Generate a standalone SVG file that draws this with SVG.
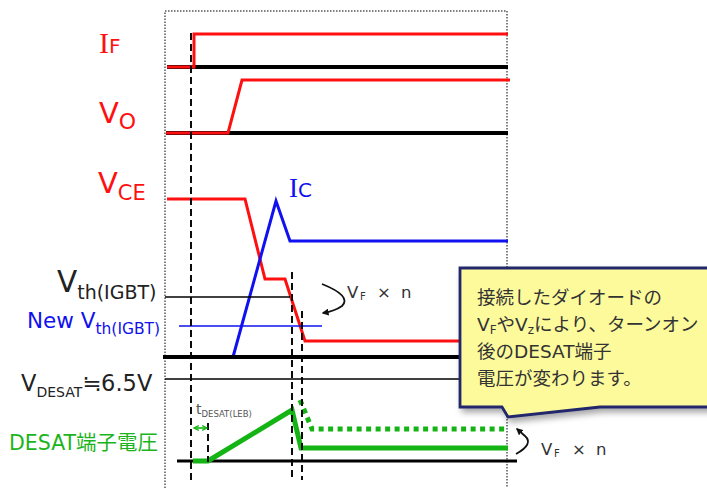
<svg xmlns="http://www.w3.org/2000/svg" width="707" height="488" viewBox="0 0 707 488">
<style>
text{font-family:"DejaVu Sans","Noto Sans CJK JP",sans-serif;}
.serif{font-family:"Liberation Serif","DejaVu Serif",serif;}
.red{fill:#ff1010;}
.blue{fill:#1010f0;}
.dark{fill:#222;}
.gray{fill:#333;}
.green{fill:#1cb41c;}
.wr{fill:none;stroke:#ff1010;stroke-width:3;stroke-linejoin:miter;}
.wb{fill:none;stroke:#1010f0;stroke-width:3;}
.wg{fill:none;stroke:#14b414;stroke-width:5;}
.base{fill:none;stroke:#000;stroke-width:4;}
.thin{fill:none;stroke:#000;stroke-width:1.6;}
.dash{fill:none;stroke:#000;stroke-width:1.9;stroke-dasharray:7 4;}
.box{fill:none;stroke:#555;stroke-width:1.5;stroke-dasharray:1.5 1.5;}
.arc{fill:none;stroke:#111;stroke-width:1.8;}
</style>
<defs>
<marker id="ah" viewBox="0 0 10 10" refX="8" refY="5" markerWidth="7" markerHeight="7" orient="auto" markerUnits="userSpaceOnUse">
<path d="M0,0 L10,5 L0,10 Z" fill="#111"/>
</marker>
<marker id="gh" viewBox="0 0 10 10" refX="9" refY="5" markerWidth="6" markerHeight="6" orient="auto-start-reverse" markerUnits="userSpaceOnUse">
<path d="M1,1 L9,5 L1,9" fill="none" stroke="#14b414" stroke-width="2"/>
</marker>
<filter id="sh" x="-10%" y="-10%" width="130%" height="140%">
<feDropShadow dx="3" dy="4" stdDeviation="3" flood-color="#000" flood-opacity="0.35"/>
</filter>
</defs>
<rect width="707" height="488" fill="#fff"/>

<!-- frame -->
<path class="box" d="M165,488 V11 H507 V488"/>

<g id="signal-IF">
<text x="99" y="53" class="red"><tspan class="serif" font-size="30">I</tspan><tspan font-size="20">F</tspan></text>
<path class="base" d="M167,67 H508"/>
<path class="wr" d="M167,67 H194 V34 H508"/>
</g>

<g id="signal-VO">
<text x="99" y="123" class="red" font-size="29">V<tspan font-size="22" dy="6">O</tspan></text>
<path class="base" d="M166,133 H508"/>
<path class="wr" d="M166,133 H228 L242,80 H510"/>
</g>

<g id="signal-VCE">
<text x="98" y="193" class="red" font-size="29">V<tspan font-size="21" dy="7">CE</tspan></text>
<path class="wr" d="M167,199 H245 L265,279 H285 L305,341 H470"/>
</g>

<g id="signal-IC">
<text x="289" y="197" class="blue"><tspan class="serif" font-size="27">I</tspan><tspan font-size="20">C</tspan></text>
<path class="wb" d="M233,357 L276,201 L290,241 H508"/>
</g>

<g id="level-Vth">
<text x="57" y="292" class="dark" font-size="29.5">V<tspan font-size="19" dy="7">th(IGBT)</tspan></text>
<path class="thin" d="M165,297 H290"/>
</g>

<g id="level-newVth">
<text x="27" y="328" class="blue" font-size="21.5">New V<tspan font-size="15.5" dy="6">th(IGBT)</tspan></text>
<path fill="none" stroke="#1010f0" stroke-width="1.6" d="M179,326 H322"/>
</g>

<g id="baseline-mid">
<path class="base" d="M163,357 H470"/>
</g>

<g id="level-VDESAT">
<text x="21" y="391" class="dark" font-size="22.5">V<tspan font-size="14" dy="6">DESAT</tspan><tspan font-size="22.5" dy="-6">≒6.5V</tspan></text>
<path class="thin" d="M165,379 H470"/>
</g>

<g id="signal-DESAT">
<text x="9" y="450" class="green" font-size="20.5">DESAT端子電圧</text>
<path fill="none" stroke="#000" stroke-width="3" d="M177,461 H517"/>
<path class="wg" d="M193,461 H208 L292,410 L301,448 H508"/>
<path fill="none" stroke="#14b414" stroke-width="5" stroke-dasharray="5 4.5" d="M300,400 L312,429 H505"/>
</g>

<g id="connectors">
<path class="dash" d="M191,33 V480"/>
<path class="dash" d="M292,272 V480"/>
<path class="dash" d="M302,311 V480"/>
<path class="dash" d="M208,423 V462"/>
<path fill="none" stroke="#14b414" stroke-width="1.6" marker-start="url(#gh)" marker-end="url(#gh)" d="M194,428 H207"/>
<path class="arc" marker-end="url(#ah)" d="M322,284 Q352,296 342,306 Q335,311 323,313"/>
<path class="arc" marker-end="url(#ah)" d="M516,454 Q534,444 525,436 L517,429"/>
</g>

<g id="label-tDESAT">
<text x="196" y="414" fill="#555" font-size="14">t<tspan font-size="8.5" dy="3">DESAT(LEB)</tspan></text>
</g>

<g id="label-VFn-1">
<text y="298" class="gray" font-size="16.5"><tspan x="347">V</tspan><tspan x="360" font-size="10" dy="2">F</tspan><tspan x="377" dy="-2">×</tspan><tspan x="401">n</tspan></text>
</g>

<g id="label-VFn-2">
<text y="455" class="gray" font-size="16.5"><tspan x="541">V</tspan><tspan x="554" font-size="10" dy="2">F</tspan><tspan x="572" dy="-2">×</tspan><tspan x="596">n</tspan></text>
</g>

<g id="callout">
<path d="M460,268 H712 V407 H600 L508,417 L502,407 H460 Z" fill="#fdfa9c" stroke="#22286a" stroke-width="2.8" stroke-linejoin="miter" filter="url(#sh)"/>
<text class="gray" font-size="18.5">
<tspan x="477" y="304">接続したダイオードの</tspan>
<tspan x="477" y="331">V<tspan font-size="12" dy="3">F</tspan><tspan dy="-3">やV</tspan><tspan font-size="12" dy="3">z</tspan><tspan dy="-3">により、ターンオン</tspan></tspan>
<tspan x="477" y="358">後のDESAT端子</tspan>
<tspan x="477" y="385">電圧が変わります。</tspan>
</text>
</g>
</svg>
